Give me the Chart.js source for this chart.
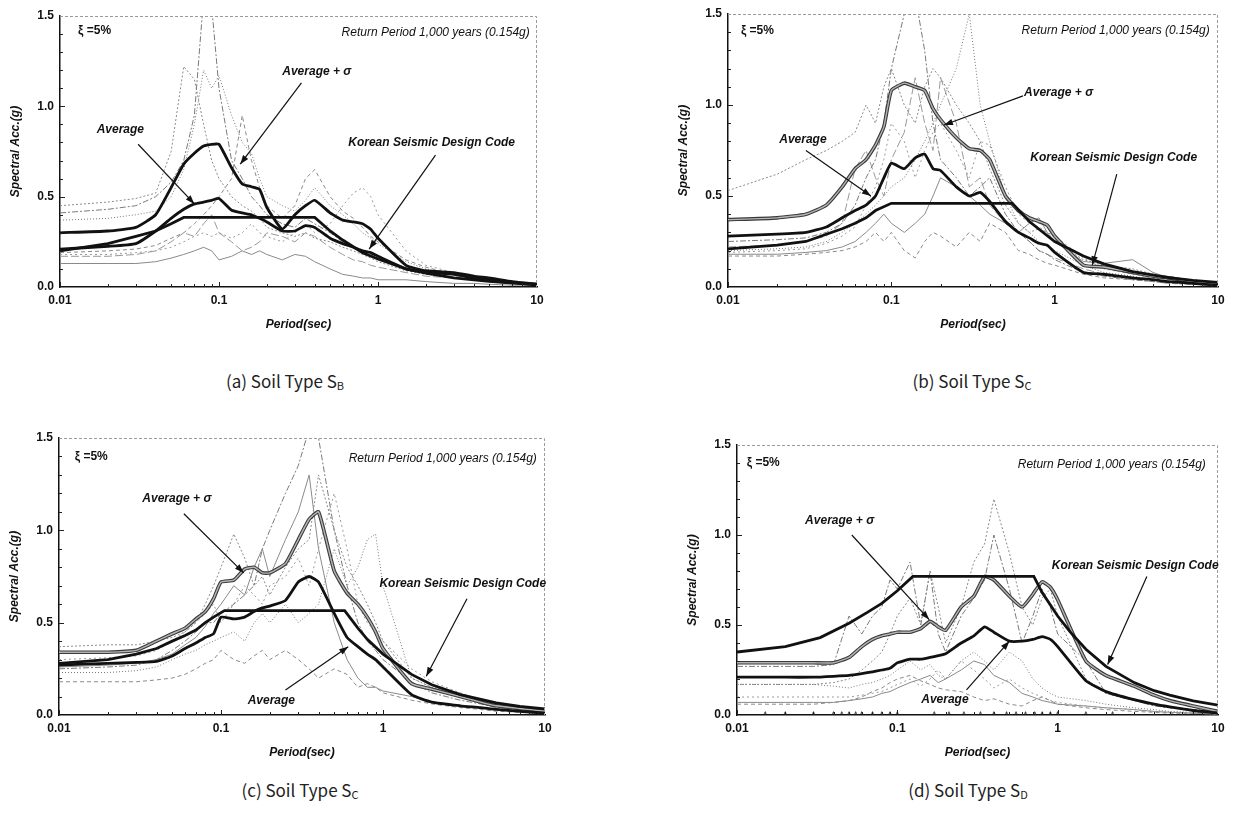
<!DOCTYPE html>
<html>
<head>
<meta charset="utf-8">
<title>Response spectra by soil type</title>
<script src="https://cdn.jsdelivr.net/npm/chart.js@4.4.1/dist/chart.umd.min.js"></script>
<style>
  body { margin: 0; background: #fff; width: 1235px; height: 818px; position: relative; overflow: hidden; }
  canvas { position: absolute; }
  .caption { position: absolute; font-family: 'Noto Sans CJK KR', 'Noto Sans', sans-serif; font-size: 17px; color: #222; transform: translate(-50%, -50%); white-space: nowrap; }
  .caption sub { font-size: 11px; vertical-align: -2px; }
</style>
</head>
<body>
<div class="caption" style="left:285px; top:380px">(a) Soil Type S<sub>B</sub></div>
<div class="caption" style="left:972px; top:380px">(b) Soil Type S<sub>C</sub></div>
<div class="caption" style="left:300px; top:789px">(c) Soil Type S<sub>C</sub></div>
<div class="caption" style="left:968px; top:789px">(d) Soil Type S<sub>D</sub></div>
<script>
const periods = [0.01, 0.02, 0.03, 0.04, 0.05, 0.06, 0.07, 0.08, 0.09, 0.1, 0.12, 0.14, 0.16, 0.18, 0.2, 0.25, 0.3, 0.35, 0.4, 0.5, 0.6, 0.7, 0.8, 0.9, 1, 1.5, 2, 3, 4, 5, 7, 10];
const xTicks = [0.01, 0.1, 1, 10];
const yTicks = [0, 0.5, 1, 1.5];

// (a) Soil Type SB
const aAverage = [0.21, 0.225, 0.24, 0.31, 0.38, 0.43, 0.46, 0.47, 0.48, 0.49, 0.425, 0.41, 0.40, 0.38, 0.36, 0.31, 0.31, 0.34, 0.33, 0.27, 0.24, 0.22, 0.20, 0.19, 0.17, 0.10, 0.08, 0.07, 0.05, 0.04, 0.025, 0.01];
const aAverageSigma = [0.30, 0.31, 0.33, 0.40, 0.55, 0.68, 0.74, 0.78, 0.79, 0.79, 0.66, 0.57, 0.555, 0.54, 0.44, 0.32, 0.40, 0.45, 0.48, 0.41, 0.37, 0.36, 0.35, 0.32, 0.27, 0.12, 0.09, 0.08, 0.06, 0.05, 0.03, 0.015];
const aCodePeriods = [0.01, 0.02, 0.03, 0.04, 0.05, 0.06, 0.4, 0.5, 0.6, 0.8, 1, 1.5, 2, 3, 5, 7, 10];
const aCodeValues = [0.20, 0.24, 0.28, 0.31, 0.35, 0.385, 0.385, 0.31, 0.26, 0.19, 0.155, 0.10, 0.077, 0.05, 0.031, 0.022, 0.015];
const aRecords = [
  [0.45, 0.47, 0.49, 0.52, 0.75, 1.22, 1.15, 0.9, 0.7, 0.6, 0.5, 0.45, 0.42, 0.38, 0.33, 0.3, 0.28, 0.3, 0.27, 0.25, 0.22, 0.2, 0.18, 0.16, 0.14, 0.09, 0.07, 0.05, 0.04, 0.03, 0.02, 0.01],
  [0.41, 0.43, 0.45, 0.5, 0.58, 0.7, 0.95, 1.6, 1.55, 1.1, 0.7, 0.6, 0.5, 0.45, 0.4, 0.35, 0.33, 0.38, 0.35, 0.3, 0.25, 0.22, 0.2, 0.18, 0.15, 0.1, 0.08, 0.05, 0.04, 0.03, 0.02, 0.01],
  [0.37, 0.38, 0.4, 0.42, 0.5, 0.65, 0.9, 1.2, 1.1, 1.17, 0.95, 0.8, 0.74, 0.6, 0.5, 0.45, 0.42, 0.48, 0.55, 0.45, 0.4, 0.35, 0.3, 0.27, 0.24, 0.14, 0.1, 0.07, 0.05, 0.04, 0.03, 0.02],
  [0.19, 0.2, 0.21, 0.23, 0.27, 0.3, 0.35, 0.4, 0.45, 0.5, 0.6, 0.95, 0.7, 0.55, 0.45, 0.38, 0.45, 0.6, 0.65, 0.5, 0.42, 0.38, 0.33, 0.28, 0.25, 0.15, 0.11, 0.07, 0.05, 0.04, 0.03, 0.02],
  [0.18, 0.18, 0.19, 0.2, 0.22, 0.25, 0.28, 0.3, 0.28, 0.3, 0.27, 0.3, 0.35, 0.3, 0.28, 0.25, 0.3, 0.35, 0.3, 0.35, 0.45, 0.52, 0.55, 0.5, 0.4, 0.2, 0.12, 0.08, 0.06, 0.04, 0.03, 0.02],
  [0.13, 0.13, 0.13, 0.14, 0.16, 0.18, 0.2, 0.22, 0.2, 0.15, 0.17, 0.2, 0.18, 0.2, 0.18, 0.15, 0.18, 0.17, 0.14, 0.1, 0.07, 0.06, 0.05, 0.05, 0.04, 0.04, 0.03, 0.02, 0.02, 0.015, 0.01, 0.01],
  [0.17, 0.17, 0.18, 0.2, 0.25, 0.3, 0.28, 0.35, 0.4, 0.3, 0.25, 0.2, 0.22, 0.25, 0.3, 0.28, 0.25, 0.3, 0.28, 0.22, 0.18, 0.15, 0.14, 0.12, 0.11, 0.08, 0.06, 0.05, 0.04, 0.03, 0.02, 0.01]
];

// (b) Soil Type SC
const bAverage = [0.28, 0.29, 0.30, 0.33, 0.38, 0.42, 0.45, 0.50, 0.60, 0.68, 0.65, 0.71, 0.73, 0.65, 0.64, 0.55, 0.50, 0.52, 0.47, 0.36, 0.30, 0.27, 0.24, 0.23, 0.19, 0.08, 0.07, 0.05, 0.04, 0.03, 0.02, 0.01];
const bAverageSigma = [0.37, 0.38, 0.40, 0.45, 0.55, 0.65, 0.70, 0.78, 0.88, 1.08, 1.12, 1.10, 1.08, 0.98, 0.92, 0.82, 0.76, 0.75, 0.70, 0.50, 0.42, 0.38, 0.36, 0.34, 0.28, 0.12, 0.11, 0.08, 0.06, 0.05, 0.03, 0.015];
const bCodePeriods = [0.01, 0.02, 0.03, 0.04, 0.05, 0.06, 0.07, 0.08, 0.1, 0.55, 0.7, 1, 1.5, 2, 3, 5, 7, 10];
const bCodeValues = [0.21, 0.23, 0.25, 0.29, 0.32, 0.35, 0.38, 0.42, 0.46, 0.46, 0.36, 0.25, 0.17, 0.127, 0.085, 0.051, 0.036, 0.025];
const bRecords = [
  [0.53, 0.62, 0.7, 0.75, 0.8, 0.85, 1.0, 0.9, 1.1, 1.2, 1.0, 0.9, 1.1, 1.2, 1.15, 1.0, 0.9, 0.8, 0.65, 0.45, 0.35, 0.3, 0.32, 0.3, 0.25, 0.15, 0.12, 0.1, 0.07, 0.05, 0.04, 0.02],
  [0.25, 0.26, 0.27, 0.3, 0.35, 0.45, 0.6, 0.7, 0.9, 1.2, 1.5, 1.6, 1.3, 0.9, 0.7, 0.6, 0.5, 0.55, 0.6, 0.4, 0.3, 0.25, 0.2, 0.18, 0.15, 0.08, 0.06, 0.04, 0.03, 0.02, 0.015, 0.01],
  [0.2, 0.21, 0.22, 0.25, 0.3, 0.35, 0.4, 0.45, 0.5, 0.55, 0.6, 0.7, 0.8, 0.9, 1.0, 1.2, 1.5, 1.0, 0.8, 0.5, 0.35, 0.3, 0.25, 0.22, 0.2, 0.12, 0.08, 0.06, 0.04, 0.03, 0.02, 0.01],
  [0.17, 0.17, 0.18, 0.19, 0.2, 0.22, 0.25, 0.3, 0.25, 0.3, 0.2, 0.16, 0.25, 0.3, 0.28, 0.22, 0.3, 0.25, 0.35, 0.3, 0.2, 0.18, 0.15, 0.13, 0.12, 0.07, 0.05, 0.04, 0.03, 0.02, 0.015, 0.01],
  [0.19, 0.2, 0.21, 0.24, 0.28, 0.33, 0.45, 0.55, 0.7, 0.9, 0.8, 0.6, 0.75, 0.85, 0.9, 0.75, 0.6, 0.8, 0.78, 0.55, 0.4, 0.35, 0.33, 0.3, 0.28, 0.16, 0.1, 0.07, 0.05, 0.04, 0.03, 0.02],
  [0.18, 0.18, 0.19, 0.2, 0.22, 0.25, 0.3, 0.35, 0.4, 0.35, 0.3, 0.35, 0.4, 0.5, 0.6, 0.55, 0.5, 0.45, 0.4, 0.35, 0.3, 0.35, 0.38, 0.3, 0.25, 0.14, 0.13, 0.15, 0.08, 0.05, 0.03, 0.02],
  [0.22, 0.23, 0.25, 0.28, 0.35, 0.65, 0.75, 0.6, 0.5, 0.7, 0.85, 1.15, 0.9, 0.75, 1.15, 0.9, 0.55, 0.6, 0.45, 0.35, 0.3, 0.25, 0.2, 0.18, 0.16, 0.1, 0.07, 0.05, 0.04, 0.03, 0.02, 0.01]
];

// (c) Soil Type SC
const cAverage = [0.27, 0.28, 0.285, 0.29, 0.32, 0.36, 0.39, 0.42, 0.44, 0.53, 0.52, 0.53, 0.56, 0.58, 0.59, 0.62, 0.72, 0.75, 0.72, 0.55, 0.42, 0.37, 0.33, 0.30, 0.26, 0.11, 0.07, 0.05, 0.04, 0.03, 0.02, 0.01];
const cAverageSigma = [0.34, 0.34, 0.35, 0.40, 0.44, 0.47, 0.52, 0.56, 0.63, 0.72, 0.73, 0.79, 0.80, 0.77, 0.77, 0.82, 0.95, 1.06, 1.10, 0.78, 0.66, 0.60, 0.53, 0.45, 0.36, 0.17, 0.14, 0.10, 0.07, 0.05, 0.035, 0.02];
const cCodePeriods = [0.01, 0.02, 0.03, 0.04, 0.05, 0.06, 0.07, 0.08, 0.09, 0.105, 0.58, 0.7, 0.8, 1, 1.5, 2, 3, 5, 7, 10];
const cCodeValues = [0.28, 0.30, 0.33, 0.36, 0.40, 0.43, 0.46, 0.50, 0.53, 0.565, 0.565, 0.47, 0.41, 0.33, 0.22, 0.164, 0.11, 0.066, 0.047, 0.033];
const cRecords = [
  [0.37, 0.38, 0.38, 0.4, 0.42, 0.45, 0.5, 0.6, 0.7, 0.8, 0.98, 0.85, 0.7, 0.75, 0.65, 0.8, 0.9, 0.95, 1.3, 1.0, 0.8, 0.7, 0.6, 0.5, 0.4, 0.2, 0.15, 0.1, 0.07, 0.05, 0.035, 0.02],
  [0.25, 0.26, 0.27, 0.3, 0.35, 0.4, 0.45, 0.5, 0.5, 0.55, 0.6, 0.65, 0.7, 0.9, 1.0, 1.2, 1.35, 1.55, 1.5, 1.0, 0.7, 0.5, 0.4, 0.35, 0.3, 0.18, 0.12, 0.08, 0.06, 0.04, 0.03, 0.02],
  [0.23, 0.23, 0.24, 0.26, 0.3, 0.33, 0.35, 0.38, 0.4, 0.42, 0.45, 0.4, 0.5, 0.55, 0.5, 0.6, 0.5, 0.55, 0.6, 0.9, 0.7, 0.8, 0.95, 0.98, 0.7, 0.2, 0.15, 0.12, 0.07, 0.05, 0.035, 0.02],
  [0.18, 0.18, 0.18, 0.19, 0.2, 0.22, 0.25, 0.28, 0.3, 0.35, 0.3, 0.28, 0.32, 0.35, 0.3, 0.35, 0.3, 0.25, 0.2, 0.25, 0.22, 0.15, 0.17, 0.15, 0.12, 0.08, 0.06, 0.04, 0.03, 0.02, 0.015, 0.01],
  [0.3, 0.31, 0.32, 0.35, 0.4, 0.45, 0.5, 0.55, 0.6, 0.5, 0.6, 0.7, 0.65, 0.6, 0.7, 0.75, 0.85, 0.7, 0.9, 1.2, 0.9, 0.6, 0.5, 0.45, 0.4, 0.25, 0.18, 0.12, 0.08, 0.06, 0.04, 0.02],
  [0.26, 0.27, 0.28, 0.3, 0.33, 0.38, 0.42, 0.48, 0.55, 0.6, 0.7, 0.65, 0.8, 0.9, 0.75, 0.95, 1.1, 1.3, 0.9, 0.5, 0.3, 0.2, 0.15, 0.15, 0.13, 0.1, 0.07, 0.05, 0.04, 0.03, 0.02, 0.01]
];

// (d) Soil Type SD
const dAverage = [0.21, 0.21, 0.21, 0.215, 0.22, 0.23, 0.24, 0.25, 0.26, 0.29, 0.31, 0.31, 0.32, 0.33, 0.34, 0.40, 0.44, 0.49, 0.46, 0.41, 0.41, 0.42, 0.435, 0.42, 0.38, 0.19, 0.13, 0.085, 0.06, 0.045, 0.025, 0.01];
const dAverageSigma = [0.29, 0.29, 0.29, 0.29, 0.32, 0.38, 0.42, 0.44, 0.45, 0.46, 0.46, 0.48, 0.52, 0.49, 0.47, 0.60, 0.66, 0.77, 0.75, 0.66, 0.60, 0.67, 0.74, 0.71, 0.64, 0.30, 0.22, 0.16, 0.11, 0.08, 0.05, 0.02];
const dCodePeriods = [0.01, 0.02, 0.033, 0.05, 0.065, 0.08, 0.1, 0.125, 0.71, 0.8, 1, 1.2, 1.5, 2, 3, 4, 5, 7, 10];
const dCodeValues = [0.35, 0.38, 0.43, 0.51, 0.57, 0.62, 0.69, 0.77, 0.77, 0.68, 0.55, 0.46, 0.365, 0.27, 0.18, 0.135, 0.11, 0.078, 0.055];
const dRecords = [
  [0.17, 0.17, 0.17, 0.18, 0.2, 0.25, 0.3, 0.35, 0.45, 0.55, 0.65, 0.5, 0.8, 0.6, 0.4, 0.6, 0.85, 0.95, 1.2, 0.9, 0.6, 0.5, 0.65, 0.7, 0.55, 0.2, 0.12, 0.08, 0.06, 0.04, 0.03, 0.02],
  [0.27, 0.27, 0.27, 0.28, 0.55, 0.45, 0.55, 0.6, 0.75, 0.7, 0.85, 0.5, 0.8, 0.45, 0.35, 0.55, 0.65, 0.75, 1.0, 0.7, 0.4, 0.55, 0.7, 0.6, 0.45, 0.3, 0.12, 0.08, 0.05, 0.04, 0.03, 0.02],
  [0.17, 0.17, 0.17, 0.16, 0.15, 0.17, 0.18, 0.2, 0.22, 0.25, 0.3, 0.25, 0.28, 0.22, 0.2, 0.3, 0.35, 0.3, 0.25, 0.35, 0.3, 0.2, 0.15, 0.12, 0.1, 0.08, 0.06, 0.04, 0.03, 0.02, 0.015, 0.01],
  [0.06, 0.06, 0.06, 0.07, 0.08, 0.1, 0.13, 0.15, 0.18, 0.2, 0.22, 0.19, 0.17, 0.15, 0.14, 0.13, 0.1, 0.08, 0.09, 0.06, 0.05, 0.08, 0.1, 0.08, 0.06, 0.04, 0.03, 0.02, 0.015, 0.01, 0.01, 0.005],
  [0.1, 0.1, 0.1, 0.1, 0.1, 0.11, 0.12, 0.13, 0.15, 0.17, 0.2, 0.16, 0.2, 0.25, 0.2, 0.3, 0.25, 0.2, 0.15, 0.2, 0.15, 0.12, 0.1, 0.08, 0.07, 0.05, 0.04, 0.03, 0.02, 0.015, 0.01, 0.005],
  [0.07, 0.07, 0.07, 0.07, 0.08, 0.09, 0.1, 0.12, 0.13, 0.15, 0.18, 0.2, 0.22, 0.18, 0.2, 0.25, 0.3, 0.28, 0.22, 0.18, 0.12, 0.1, 0.08, 0.07, 0.06, 0.05, 0.04, 0.03, 0.02, 0.015, 0.01, 0.005]
];
const dMarkPeriods = [0.015, 0.02, 0.03, 0.04, 0.045, 0.05, 0.055, 0.06, 0.07, 0.08, 0.09, 0.1, 0.17, 0.21, 0.26, 0.33, 0.4, 0.48, 0.55, 0.63, 0.72, 0.8, 0.9, 1.0, 1.5, 2.2];
const dMarkValues = [0.012, 0.012, 0.012, 0.012, 0.012, 0.012, 0.012, 0.012, 0.012, 0.012, 0.012, 0.012, 0.012, 0.012, 0.012, 0.012, 0.012, 0.012, 0.012, 0.012, 0.012, 0.012, 0.012, 0.012, 0.012, 0.012];

const FONT = "'Liberation Sans', Arial, sans-serif";
const NOTE_FONT = `italic bold 12px ${FONT}`;
Chart.defaults.font.family = FONT;

const recordStyles = [
  { dash: [2, 2], color: '#8a8a8a' },
  { dash: [6, 2, 2, 2], color: '#7a7a7a' },
  { dash: [1, 2], color: '#777' },
  { dash: [4, 3], color: '#8a8a8a' },
  { dash: [2, 3], color: '#999' },
  { dash: [], color: '#8a8a8a' },
  { dash: [8, 3], color: '#999' }
];

function toPoints(xs, ys) {
  return xs.map((x, i) => ({ x: x, y: ys[i] }));
}

function drawArrow(ctx, x1, y1, x2, y2) {
  ctx.beginPath();
  ctx.moveTo(x1, y1);
  ctx.lineTo(x2, y2);
  ctx.stroke();
  const a = Math.atan2(y2 - y1, x2 - x1);
  const len = 9, half = 3.2;
  ctx.beginPath();
  ctx.moveTo(x2, y2);
  ctx.lineTo(x2 - len * Math.cos(a) + half * Math.sin(a), y2 - len * Math.sin(a) - half * Math.cos(a));
  ctx.lineTo(x2 - len * Math.cos(a) - half * Math.sin(a), y2 - len * Math.sin(a) + half * Math.cos(a));
  ctx.closePath();
  ctx.fill();
}

// frame, inward ticks, labels and arrows
function decor(notes) {
  return {
    id: 'decor',
    afterDatasetsDraw(chart) {
      const { ctx, chartArea: area, scales: { x, y } } = chart;
      ctx.save();
      ctx.strokeStyle = '#9a9a9a';
      ctx.lineWidth = 1;
      ctx.setLineDash([3, 2]);
      ctx.beginPath();
      ctx.moveTo(area.left, area.top + 0.5);
      ctx.lineTo(area.right - 0.5, area.top + 0.5);
      ctx.lineTo(area.right - 0.5, area.bottom);
      ctx.stroke();
      ctx.setLineDash([]);

      ctx.strokeStyle = '#222';
      ctx.beginPath();
      for (let e = -2; e < 1; e++) {
        for (let k = 1; k <= 9; k++) {
          const px = Math.round(x.getPixelForValue(k * Math.pow(10, e))) + 0.5;
          ctx.moveTo(px, area.bottom);
          ctx.lineTo(px, area.bottom - (k === 1 ? 5 : 3));
        }
      }
      for (let i = 1; i < 15; i++) {
        const py = Math.round(y.getPixelForValue(i / 10)) + 0.5;
        ctx.moveTo(area.left, py);
        ctx.lineTo(area.left + (i % 5 === 0 ? 5 : 3), py);
      }
      ctx.stroke();

      ctx.fillStyle = '#111';
      ctx.textBaseline = 'middle';
      notes.labels.forEach((l) => {
        ctx.font = l.font || NOTE_FONT;
        ctx.textAlign = l.align || 'left';
        ctx.fillText(l.text, x.getPixelForValue(l.x), y.getPixelForValue(l.y));
      });

      ctx.strokeStyle = '#111';
      ctx.lineWidth = 1.2;
      notes.arrows.forEach((a) => {
        drawArrow(ctx, x.getPixelForValue(a[0]), y.getPixelForValue(a[1]), x.getPixelForValue(a[2]), y.getPixelForValue(a[3]));
      });
      ctx.restore();
    }
  };
}

function makePanel(cfg) {
  const [left, top, right, bottom] = cfg.plot;
  const padL = 60, padT = 16, padR = 14, padB = 60;
  const canvas = document.createElement('canvas');
  canvas.width = right - left + padL + padR;
  canvas.height = bottom - top + padT + padB;
  canvas.style.left = (left - padL) + 'px';
  canvas.style.top = (top - padT) + 'px';
  document.body.appendChild(canvas);

  const datasets = [
    { data: toPoints(cfg.codeT, cfg.codeSa), borderColor: '#111', borderWidth: 2.8, tension: 0 },
    { data: toPoints(periods, cfg.average), borderColor: '#111', borderWidth: 2.8, tension: 0.15 }
  ];
  if (cfg.graySigma) {
    datasets.push({ data: toPoints(periods, cfg.sigma), borderColor: '#b4b4b4', borderWidth: 1.4, tension: 0.15 });
    datasets.push({ data: toPoints(periods, cfg.sigma), borderColor: '#3a3a3a', borderWidth: 3.6, tension: 0.15 });
  } else {
    datasets.push({ data: toPoints(periods, cfg.sigma), borderColor: '#111', borderWidth: 2.8, tension: 0.15 });
  }
  cfg.records.forEach((r, i) => {
    const s = recordStyles[i % recordStyles.length];
    datasets.push({ data: toPoints(periods, r), borderColor: s.color, borderDash: s.dash, borderWidth: 1, tension: 0 });
  });
  if (cfg.marks) {
    datasets.push({ data: toPoints(cfg.marks[0], cfg.marks[1]), showLine: false, pointStyle: 'triangle', pointRadius: 1.8, pointBackgroundColor: '#444', pointBorderColor: '#444', pointBorderWidth: 0 });
  }
  datasets.forEach((d) => { if (d.pointRadius === undefined) d.pointRadius = 0; });

  new Chart(canvas, {
    type: 'line',
    data: { datasets: datasets },
    options: {
      responsive: false,
      animation: false,
      events: [],
      layout: { padding: { top: padT, right: padR, left: 0, bottom: 0 } },
      plugins: { legend: { display: false }, tooltip: { enabled: false } },
      scales: {
        x: {
          type: 'logarithmic',
          min: 0.01,
          max: 10,
          afterBuildTicks: (s) => { s.ticks = xTicks.map((v) => ({ value: v })); },
          afterFit: (s) => { s.height = padB; },
          grid: { display: false, drawTicks: false },
          border: { display: true, color: '#111', width: 1.5 },
          ticks: { callback: (v) => String(v), autoSkip: false, maxRotation: 0, padding: 6, color: '#111', font: { size: 12, weight: 'bold' } },
          title: { display: true, text: 'Period(sec)', color: '#111', font: { size: 12, weight: 'bold', style: 'italic' }, padding: { top: 0, bottom: 15 } }
        },
        y: {
          min: 0,
          max: 1.5,
          afterBuildTicks: (s) => { s.ticks = yTicks.map((v) => ({ value: v })); },
          afterFit: (s) => { s.width = padL; },
          grid: { display: false, drawTicks: false },
          border: { display: true, color: '#111', width: 1.5 },
          ticks: { callback: (v) => v.toFixed(1), padding: 6, color: '#111', font: { size: 12, weight: 'bold' } },
          title: { display: true, text: 'Spectral Acc.(g)', color: '#111', font: { size: 12, weight: 'bold', style: 'italic' }, padding: { top: 8, bottom: 0 } }
        }
      }
    },
    plugins: [decor(cfg.notes)]
  });
}

const RP = 'Return Period 1,000 years (0.154g)';
const RP_FONT = `italic 12px ${FONT}`;
const XI_FONT = `bold 12px ${FONT}`;

makePanel({
  plot: [60, 16, 537, 287],
  average: aAverage, sigma: aAverageSigma, graySigma: false,
  codeT: aCodePeriods, codeSa: aCodeValues, records: aRecords,
  notes: {
    labels: [
      { text: 'ξ =5%', x: 0.013, y: 1.42, font: XI_FONT },
      { text: RP, x: 9, y: 1.41, align: 'right', font: RP_FONT },
      { text: 'Average + σ', x: 0.25, y: 1.19 },
      { text: 'Average', x: 0.017, y: 0.87 },
      { text: 'Korean Seismic Design Code', x: 0.65, y: 0.80 }
    ],
    arrows: [[0.33, 1.13, 0.136, 0.68], [0.031, 0.79, 0.07, 0.46], [2.3, 0.73, 0.88, 0.21]]
  }
});

makePanel({
  plot: [728, 14, 1218, 287],
  average: bAverage, sigma: bAverageSigma, graySigma: true,
  codeT: bCodePeriods, codeSa: bCodeValues, records: bRecords,
  notes: {
    labels: [
      { text: 'ξ =5%', x: 0.012, y: 1.41, font: XI_FONT },
      { text: RP, x: 8.9, y: 1.41, align: 'right', font: RP_FONT },
      { text: 'Average + σ', x: 0.65, y: 1.07 },
      { text: 'Average', x: 0.0206, y: 0.81 },
      { text: 'Korean Seismic Design Code', x: 0.71, y: 0.71 }
    ],
    arrows: [[0.64, 1.05, 0.21, 0.89], [0.03, 0.75, 0.075, 0.5], [2.4, 0.62, 1.7, 0.12]]
  }
});

makePanel({
  plot: [59, 438, 545, 715],
  average: cAverage, sigma: cAverageSigma, graySigma: true,
  codeT: cCodePeriods, codeSa: cCodeValues, records: cRecords,
  notes: {
    labels: [
      { text: 'ξ =5%', x: 0.0125, y: 1.40, font: XI_FONT },
      { text: RP, x: 8.9, y: 1.39, align: 'right', font: RP_FONT },
      { text: 'Average + σ', x: 0.0327, y: 1.17 },
      { text: 'Average', x: 0.146, y: 0.08 },
      { text: 'Korean Seismic Design Code', x: 0.95, y: 0.71 }
    ],
    arrows: [[0.059, 1.09, 0.138, 0.77], [0.25, 0.135, 0.61, 0.37], [3.3, 0.63, 1.85, 0.21]]
  }
});

makePanel({
  plot: [737, 445, 1218, 715],
  average: dAverage, sigma: dAverageSigma, graySigma: true,
  codeT: dCodePeriods, codeSa: dCodeValues, records: dRecords,
  marks: [dMarkPeriods, dMarkValues],
  notes: {
    labels: [
      { text: 'ξ =5%', x: 0.0115, y: 1.40, font: XI_FONT },
      { text: RP, x: 8.4, y: 1.39, align: 'right', font: RP_FONT },
      { text: 'Average + σ', x: 0.0266, y: 1.08 },
      { text: 'Average', x: 0.141, y: 0.083 },
      { text: 'Korean Seismic Design Code', x: 0.92, y: 0.83 }
    ],
    arrows: [[0.052, 1.0, 0.158, 0.53], [0.27, 0.14, 0.5, 0.41], [3.6, 0.77, 2.05, 0.28]]
  }
});
</script>
</body>
</html>
